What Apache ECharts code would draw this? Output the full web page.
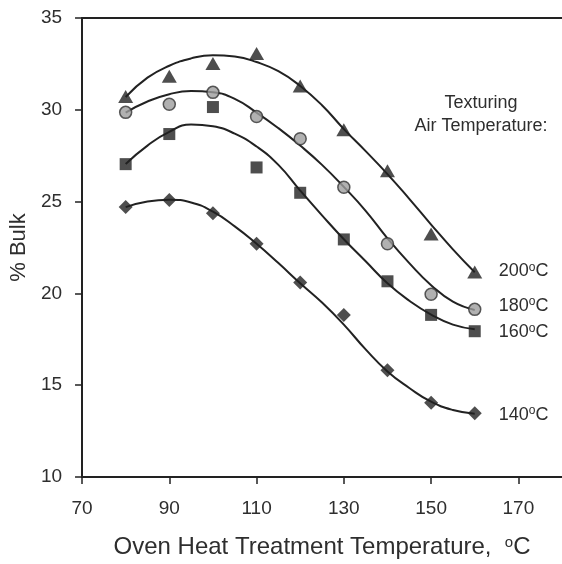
<!DOCTYPE html>
<html>
<head>
<meta charset="utf-8">
<script src="https://cdn.jsdelivr.net/npm/echarts@6/dist/echarts.min.js"></script>
<style>
  html, body { margin: 0; padding: 0; background: #fff; }
  #chart { width: 562px; height: 564px; }
</style>
</head>
<body>
<div id="chart"></div>
<script>
// oven heat treatment temperatures where bulk was measured
const ovenTemps = [80, 90, 100, 110, 120, 130, 140, 150, 160];

// measured % bulk, one list per texturing air temperature
const bulk200 = [30.73, 31.83, 32.52, 33.06, 31.29, 28.92, 26.68, 23.24, 21.16];
const bulk180 = [29.86, 30.30, 30.95, 29.63, 28.42, 25.78, 22.70, 19.95, 19.13];
const bulk160 = [27.04, 28.68, 30.15, 26.86, 25.48, 22.94, 20.66, 18.83, 17.94];
const bulk140 = [24.71, 25.09, 24.36, 22.70, 20.60, 18.83, 15.82, 14.04, 13.47];

// fitted curves, every 5 degrees
const fitTemps = [80, 85, 90, 95, 100, 105, 110, 115, 120, 125, 130, 135, 140, 145, 150, 155, 160];
const fit200 = [30.7, 31.75, 32.4, 32.8, 32.97, 32.9, 32.6, 32.1, 31.3, 30.25, 28.95, 27.75, 26.5, 25.15, 23.75, 22.4, 21.15];
const fit180 = [29.85, 30.45, 30.85, 31.02, 30.95, 30.6, 29.85, 29.0, 28.05, 27.0, 25.8, 24.5, 23.0, 21.65, 20.45, 19.55, 19.1];
const fit160 = [27.05, 28.05, 28.8, 29.2, 29.1, 28.7, 28.0, 27.0, 25.6, 24.25, 22.95, 21.75, 20.55, 19.6, 18.85, 18.3, 18.05];
const fit140 = [24.7, 25.0, 25.1, 24.95, 24.45, 23.65, 22.7, 21.65, 20.55, 19.5, 18.3, 16.95, 15.75, 14.85, 14.1, 13.65, 13.45];

const airTemps = ['200', '180', '160', '140'];
const xTicks = [70, 90, 110, 130, 150, 170];

const FONT = "'Liberation Sans', Arial, Helvetica, sans-serif";
const INK = '#222';
const TEXT = '#2e2e2e';

const chart = echarts.init(document.getElementById('chart'), null, { renderer: 'canvas' });

function pairs(xs, ys) {
  return xs.map(function (x, i) { return [x, ys[i]]; });
}

function fitLine(name, ys, offsetY) {
  return {
    name: name,
    type: 'line',
    data: pairs(fitTemps, ys),
    smooth: 0.5,
    showSymbol: false,
    silent: true,
    z: 2,
    lineStyle: { color: INK, width: 2 },
    endLabel: {
      show: true,
      distance: 24,
      offset: [0, offsetY],
      formatter: name + '{s|o}C',
      color: TEXT,
      fontFamily: FONT,
      fontSize: 18,
      lineHeight: 20,
      rich: {
        s: { fontSize: 12, lineHeight: 12, verticalAlign: 'top', color: TEXT, fontFamily: FONT }
      }
    }
  };
}

function markers(name, ys, symbol, size, fill, border) {
  return {
    name: name,
    type: 'scatter',
    data: pairs(ovenTemps, ys),
    symbol: symbol,
    symbolSize: size,
    z: 3,
    itemStyle: { color: fill, borderColor: border, borderWidth: border ? 1.5 : 0 }
  };
}

const option = {
  animation: false,
  backgroundColor: '#fff',
  textStyle: { fontFamily: FONT },
  grid: { left: 82, top: 18, width: 484, height: 461 },
  xAxis: [
    {
      type: 'value',
      min: 70,
      max: 180,
      interval: 20,
      name: 'Oven Heat Treatment Temperature,  {s|o}C',
      nameLocation: 'middle',
      nameGap: 58,
      nameTextStyle: {
        color: TEXT, fontSize: 24, fontFamily: FONT,
        rich: { s: { fontSize: 15, lineHeight: 15, verticalAlign: 'top', color: TEXT, fontFamily: FONT } }
      },
      axisLine: { show: true, lineStyle: { color: INK, width: 2 } },
      axisTick: { show: true, length: 7, customValues: xTicks, lineStyle: { color: INK, width: 1.5 } },
      axisLabel: { color: TEXT, fontSize: 19, margin: 22, fontFamily: FONT, customValues: xTicks },
      splitLine: { show: false }
    },
    {
      // top frame line
      type: 'value',
      position: 'top',
      min: 70,
      max: 180,
      axisLine: { show: true, lineStyle: { color: INK, width: 2 } },
      axisTick: { show: false },
      axisLabel: { show: false },
      splitLine: { show: false }
    }
  ],
  yAxis: {
    type: 'value',
    min: 10,
    max: 35,
    interval: 5,
    name: '% Bulk',
    nameLocation: 'middle',
    nameGap: 52,
    nameTextStyle: { color: TEXT, fontSize: 22, fontFamily: FONT },
    axisLine: { show: true, lineStyle: { color: INK, width: 2 } },
    axisTick: { show: true, length: 7, lineStyle: { color: INK, width: 1.5 } },
    axisLabel: { color: TEXT, fontSize: 19, margin: 20, fontFamily: FONT },
    splitLine: { show: false }
  },
  graphic: [
    {
      type: 'text',
      x: 481,
      y: 115,
      style: {
        text: 'Texturing\nAir Temperature:',
        fill: TEXT,
        font: '18px ' + FONT,
        lineHeight: 23,
        align: 'center',
        verticalAlign: 'middle'
      }
    }
  ],
  series: [
    fitLine(airTemps[0], fit200, -1),
    fitLine(airTemps[1], fit180, -4),
    fitLine(airTemps[2], fit160, 3),
    fitLine(airTemps[3], fit140, 1),
    markers(airTemps[0], bulk200, 'triangle', [15, 13], INK, null),
    markers(airTemps[1], bulk180, 'circle', 12, '#9e9e9e', '#333'),
    markers(airTemps[2], bulk160, 'rect', 12, INK, null),
    markers(airTemps[3], bulk140, 'diamond', 14, INK, null)
  ]
};

chart.setOption(option);
</script>
</body>
</html>
